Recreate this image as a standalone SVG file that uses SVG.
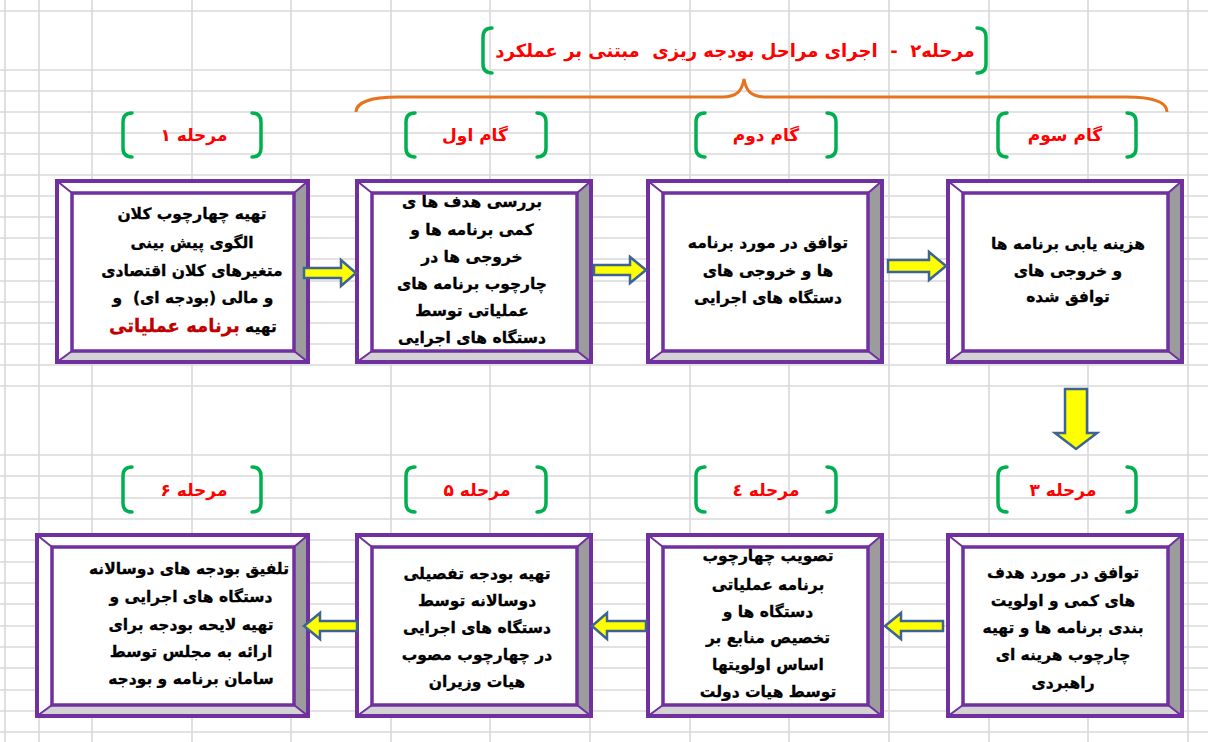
<svg xmlns="http://www.w3.org/2000/svg" width="1208" height="742" viewBox="0 0 1208 742">
<style>
.grid line{stroke:#d9d9d9;stroke-width:1.6}
.bg{fill:#fff}
.bvr{fill:#9c9c9c}
.bvb{fill:#d3d3d3}
.dg{stroke:#7030a0;stroke-width:2;fill:none}
.in{fill:#fff;stroke:#7030a0;stroke-width:3.5}
.out{fill:none;stroke:#7030a0;stroke-width:4}
.t{font-family:"DejaVu Sans",sans-serif;font-weight:bold;font-size:15.5px;fill:#000;stroke:#000;stroke-width:0.3;text-anchor:middle;direction:rtl}
.lbl{font-family:"DejaVu Sans",sans-serif;font-weight:bold;font-size:17px;fill:#ff0000;text-anchor:middle;direction:rtl}
.br{fill:none;stroke:#00b050;stroke-width:3.5;stroke-linecap:round}
.arr{fill:#ffff00;stroke:#3e6496;stroke-width:2.5;stroke-linejoin:miter}
.brace{fill:none;stroke:#e8731f;stroke-width:3}
</style>
<g class="grid">
<line x1="5" y1="0" x2="5" y2="742"/><line x1="39" y1="0" x2="39" y2="742"/><line x1="92" y1="0" x2="92" y2="742"/><line x1="192" y1="0" x2="192" y2="742"/><line x1="291" y1="0" x2="291" y2="742"/><line x1="391" y1="0" x2="391" y2="742"/><line x1="490" y1="0" x2="490" y2="742"/><line x1="590" y1="0" x2="590" y2="742"/><line x1="690" y1="0" x2="690" y2="742"/><line x1="789" y1="0" x2="789" y2="742"/><line x1="889" y1="0" x2="889" y2="742"/><line x1="989" y1="0" x2="989" y2="742"/><line x1="1088" y1="0" x2="1088" y2="742"/><line x1="1188" y1="0" x2="1188" y2="742"/>
<line x1="0" y1="11" x2="1208" y2="11"/><line x1="0" y1="70" x2="1208" y2="70"/><line x1="0" y1="91" x2="1208" y2="91"/><line x1="0" y1="112" x2="1208" y2="112"/><line x1="0" y1="133" x2="1208" y2="133"/><line x1="0" y1="154" x2="1208" y2="154"/><line x1="0" y1="175" x2="1208" y2="175"/><line x1="0" y1="196" x2="1208" y2="196"/><line x1="0" y1="217" x2="1208" y2="217"/><line x1="0" y1="238" x2="1208" y2="238"/><line x1="0" y1="259" x2="1208" y2="259"/><line x1="0" y1="281" x2="1208" y2="281"/><line x1="0" y1="302" x2="1208" y2="302"/><line x1="0" y1="323" x2="1208" y2="323"/><line x1="0" y1="344" x2="1208" y2="344"/><line x1="0" y1="365" x2="1208" y2="365"/><line x1="0" y1="386" x2="1208" y2="386"/>
<line x1="0" y1="455" x2="1208" y2="455"/><line x1="0" y1="476" x2="1208" y2="476"/><line x1="0" y1="498" x2="1208" y2="498"/><line x1="0" y1="519" x2="1208" y2="519"/><line x1="0" y1="540" x2="1208" y2="540"/><line x1="0" y1="562" x2="1208" y2="562"/><line x1="0" y1="583" x2="1208" y2="583"/><line x1="0" y1="604" x2="1208" y2="604"/><line x1="0" y1="626" x2="1208" y2="626"/><line x1="0" y1="647" x2="1208" y2="647"/><line x1="0" y1="668" x2="1208" y2="668"/><line x1="0" y1="690" x2="1208" y2="690"/><line x1="0" y1="711" x2="1208" y2="711"/><line x1="0" y1="732" x2="1208" y2="732"/>
</g>

<g id="title">
<path class="br" d="M492,28 Q483,28 483,37 L483,64 Q483,73 492,73"/>
<path class="br" d="M977,28 Q986,28 986,37 L986,64 Q986,73 977,73"/>
<text class="lbl" x="735" y="57" style="font-size:18px" xml:space="preserve">مرحله۲  -  اجرای مراحل بودجه ریزی  مبتنی بر عملکرد</text>
</g>
<g id="brace"><path class="brace" d="M356,112 C356,102 372,97 398,97 L722,97 C738,97 742,90 744,79 C746,90 750,97 766,97 L1126,97 C1152,97 1167,102 1167,112"/></g>

<g id="labels">
<g id="lbl-m1"><path class="br" d="M132,113 Q123,113 123,122 L123,148 Q123,157 132,157"/><path class="br" d="M252,113 Q261,113 261,122 L261,148 Q261,157 252,157"/><text class="lbl" x="194" y="141">مرحله ۱</text></g>
<g id="lbl-g1"><path class="br" d="M415,113 Q406,113 406,122 L406,148 Q406,157 415,157"/><path class="br" d="M537,113 Q546,113 546,122 L546,148 Q546,157 537,157"/><text class="lbl" x="475" y="141">گام اول</text></g>
<g id="lbl-g2"><path class="br" d="M705,113 Q696,113 696,122 L696,148 Q696,157 705,157"/><path class="br" d="M827,113 Q836,113 836,122 L836,148 Q836,157 827,157"/><text class="lbl" x="766" y="141">گام دوم</text></g>
<g id="lbl-g3"><path class="br" d="M1007,113 Q998,113 998,122 L998,148 Q998,157 1007,157"/><path class="br" d="M1127,113 Q1136,113 1136,122 L1136,148 Q1136,157 1127,157"/><text class="lbl" x="1065" y="141">گام سوم</text></g>
<g id="lbl-m6"><path class="br" d="M132,467 Q123,467 123,476 L123,503 Q123,512 132,512"/><path class="br" d="M252,467 Q261,467 261,476 L261,503 Q261,512 252,512"/><text class="lbl" x="194" y="496">مرحله ۶</text></g>
<g id="lbl-m5"><path class="br" d="M415,467 Q406,467 406,476 L406,503 Q406,512 415,512"/><path class="br" d="M537,467 Q546,467 546,476 L546,503 Q546,512 537,512"/><text class="lbl" x="477" y="496">مرحله ۵</text></g>
<g id="lbl-m4"><path class="br" d="M705,467 Q696,467 696,476 L696,503 Q696,512 705,512"/><path class="br" d="M827,467 Q836,467 836,476 L836,503 Q836,512 827,512"/><text class="lbl" x="766" y="496">مرحله ٤</text></g>
<g id="lbl-m3"><path class="br" d="M1007,467 Q998,467 998,476 L998,503 Q998,512 1007,512"/><path class="br" d="M1127,467 Q1136,467 1136,476 L1136,503 Q1136,512 1127,512"/><text class="lbl" x="1063" y="496">مرحله ۳</text></g>
</g>

<g id="box1">
<rect class="bg" x="57" y="181" width="251" height="181"/>
<polygon class="bvr" points="308,181 308,362 294,351 294,193"/>
<polygon class="bvb" points="57,362 308,362 294,351 72,351"/>
<path class="dg" d="M57,181 L72,193 M308,181 L294,193 M57,362 L72,351 M308,362 L294,351"/>
<rect class="in" x="72" y="193" width="222" height="158"/>
<rect class="out" x="57" y="181" width="251" height="181"/>
<text class="t" x="192" y="219">تهیه چهارچوب کلان</text>
<text class="t" x="192" y="248">الگوی پیش بینی</text>
<text class="t" x="192" y="276">متغیرهای کلان اقتصادی</text>
<text class="t" x="193" y="303" xml:space="preserve">و مالی (بودجه ای)  و</text>
<text class="t" x="193" y="332">تهیه <tspan fill="#c00000" stroke="#c00000" style="font-size:18px">برنامه عملیاتی</tspan></text>
</g>

<g id="box2">
<rect class="bg" x="357" y="181" width="234" height="181"/>
<polygon class="bvr" points="591,181 591,362 577,351 577,193"/>
<polygon class="bvb" points="357,362 591,362 577,351 372,351"/>
<path class="dg" d="M357,181 L372,193 M591,181 L577,193 M357,362 L372,351 M591,362 L577,351"/>
<rect class="in" x="372" y="193" width="205" height="158"/>
<rect class="out" x="357" y="181" width="234" height="181"/>
<text class="t" x="472" y="207">بررسی هدف ها ی</text>
<text class="t" x="472" y="235">کمی برنامه ها و</text>
<text class="t" x="472" y="262">خروجی ها در</text>
<text class="t" x="472" y="289">چارچوب برنامه های</text>
<text class="t" x="472" y="316">عملیاتی توسط</text>
<text class="t" x="472" y="343">دستگاه های اجرایی</text>
</g>

<g id="box3">
<rect class="bg" x="648" y="181" width="234" height="181"/>
<polygon class="bvr" points="882,181 882,362 868,351 868,193"/>
<polygon class="bvb" points="648,362 882,362 868,351 663,351"/>
<path class="dg" d="M648,181 L663,193 M882,181 L868,193 M648,362 L663,351 M882,362 L868,351"/>
<rect class="in" x="663" y="193" width="205" height="158"/>
<rect class="out" x="648" y="181" width="234" height="181"/>
<text class="t" x="768" y="248">توافق در مورد برنامه</text>
<text class="t" x="768" y="276">ها و خروجی های</text>
<text class="t" x="768" y="303">دستگاه های اجرایی</text>
</g>

<g id="box4">
<rect class="bg" x="948" y="181" width="234" height="181"/>
<polygon class="bvr" points="1182,181 1182,362 1168,351 1168,193"/>
<polygon class="bvb" points="948,362 1182,362 1168,351 963,351"/>
<path class="dg" d="M948,181 L963,193 M1182,181 L1168,193 M948,362 L963,351 M1182,362 L1168,351"/>
<rect class="in" x="963" y="193" width="205" height="158"/>
<rect class="out" x="948" y="181" width="234" height="181"/>
<text class="t" x="1068" y="249">هزینه یابی برنامه ها</text>
<text class="t" x="1068" y="276">و خروجی های</text>
<text class="t" x="1068" y="302">توافق شده</text>
</g>

<g id="box6">
<rect class="bg" x="37" y="535" width="271" height="181"/>
<polygon class="bvr" points="308,535 308,716 294,705 294,547"/>
<polygon class="bvb" points="37,716 308,716 294,705 52,705"/>
<path class="dg" d="M37,535 L52,547 M308,535 L294,547 M37,716 L52,705 M308,716 L294,705"/>
<rect class="in" x="52" y="547" width="242" height="158"/>
<rect class="out" x="37" y="535" width="271" height="181"/>
<text class="t" x="189" y="574">تلفیق بودجه های دوسالانه</text>
<text class="t" x="191" y="602">دستگاه های اجرایی و</text>
<text class="t" x="191" y="630">تهیه لایحه بودجه برای</text>
<text class="t" x="191" y="657">ارائه به مجلس توسط</text>
<text class="t" x="191" y="684">سامان برنامه و بودجه</text>
</g>

<g id="box5">
<rect class="bg" x="357" y="535" width="234" height="181"/>
<polygon class="bvr" points="591,535 591,716 577,705 577,547"/>
<polygon class="bvb" points="357,716 591,716 577,705 372,705"/>
<path class="dg" d="M357,535 L372,547 M591,535 L577,547 M357,716 L372,705 M591,716 L577,705"/>
<rect class="in" x="372" y="547" width="205" height="158"/>
<rect class="out" x="357" y="535" width="234" height="181"/>
<text class="t" x="477" y="579">تهیه بودجه تفصیلی</text>
<text class="t" x="477" y="606">دوسالانه توسط</text>
<text class="t" x="477" y="633">دستگاه های اجرایی</text>
<text class="t" x="477" y="660">در چهارچوب مصوب</text>
<text class="t" x="477" y="687">هیات وزیران</text>
</g>

<g id="box4b">
<rect class="bg" x="648" y="535" width="234" height="181"/>
<polygon class="bvr" points="882,535 882,716 868,705 868,547"/>
<polygon class="bvb" points="648,716 882,716 868,705 663,705"/>
<path class="dg" d="M648,535 L663,547 M882,535 L868,547 M648,716 L663,705 M882,716 L868,705"/>
<rect class="in" x="663" y="547" width="205" height="158"/>
<rect class="out" x="648" y="535" width="234" height="181"/>
<text class="t" x="768" y="561">تصویب چهارچوب</text>
<text class="t" x="768" y="590">برنامه عملیاتی</text>
<text class="t" x="768" y="617">دستگاه ها و</text>
<text class="t" x="768" y="643">تخصیص منابع بر</text>
<text class="t" x="768" y="670">اساس اولویتها</text>
<text class="t" x="768" y="697">توسط هیات دولت</text>
</g>

<g id="box3b">
<rect class="bg" x="948" y="535" width="234" height="181"/>
<polygon class="bvr" points="1182,535 1182,716 1168,705 1168,547"/>
<polygon class="bvb" points="948,716 1182,716 1168,705 963,705"/>
<path class="dg" d="M948,535 L963,547 M1182,535 L1168,547 M948,716 L963,705 M1182,716 L1168,705"/>
<rect class="in" x="963" y="547" width="205" height="158"/>
<rect class="out" x="948" y="535" width="234" height="181"/>
<text class="t" x="1063" y="578">توافق در مورد هدف</text>
<text class="t" x="1063" y="606">های کمی و اولویت</text>
<text class="t" x="1063" y="633">بندی برنامه ها و تهیه</text>
<text class="t" x="1063" y="660">چارچوب هرینه ای</text>
<text class="t" x="1063" y="688">راهبردی</text>
</g>

<g id="connectors">
<polygon class="arr" points="304,268 341,268 341,260 356,273 341,286 341,278 304,278"/>
<polygon class="arr" points="594,265 630,265 630,257 646,270 630,283 630,275 594,275"/>
<polygon class="arr" points="888,260 929,260 929,252 946,266 929,280 929,272 888,272"/>
<polygon class="arr" points="1065,389 1087,389 1087,433 1097,433 1076,449 1055,433 1065,433"/>
<polygon class="arr" points="943,621 901,621 901,613 885,626 901,639 901,631 943,631"/>
<polygon class="arr" points="646,621 607,621 607,613 592,626 607,639 607,631 646,631"/>
<polygon class="arr" points="357,621 320,621 320,613 304,626 320,639 320,631 357,631"/>
</g>
</svg>
